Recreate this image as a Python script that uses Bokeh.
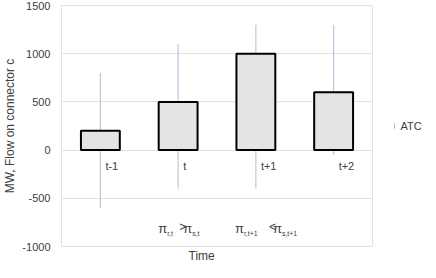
from bokeh.plotting import figure
from bokeh.layouts import row
from bokeh.models import ColumnDataSource, FixedTicker, Title
from bokeh.core.properties import value
from bokeh.embed import file_html
from bokeh.resources import INLINE

categories = ["t-1", "t", "t+1", "t+2"]
flow = [200, 500, 1000, 600]
atc_low = [-600, -400, -400, -50]
atc_high = [800, 1100, 1300, 1300]
y_ticks = [-1000, -500, 0, 500, 1000, 1500]
y_tick_labels = {t: str(t) for t in y_ticks}
label_y = -170
legend_label = "ATC"

FONT = "Liberation Sans"
TXT = "#404040"
ATC_COLOR = "#a9bfd9"

p = figure(x_range=categories, y_range=(-1000, 1500), width=374, height=262,
           output_backend="svg", toolbar_location=None, x_axis_location=None,
           min_border_left=54, min_border_right=2, min_border_top=5, min_border_bottom=0)

p.xgrid.visible = False
p.ygrid.grid_line_color = "#e2e2e2"
p.outline_line_color = "#e2e2e2"

ya = p.yaxis[0]
ya.ticker = FixedTicker(ticks=y_ticks)
ya.major_label_overrides = y_tick_labels
ya.major_tick_line_color = None
ya.minor_tick_line_color = None
ya.axis_line_color = "#e2e2e2"
ya.major_label_text_font = FONT
ya.major_label_text_font_size = "11px"
ya.major_label_text_color = TXT
ya.major_label_standoff = 5
ya.axis_label = "MW, Flow on connector c"
ya.axis_label_text_font = FONT
ya.axis_label_text_font_style = "normal"
ya.axis_label_text_font_size = "12px"
ya.axis_label_text_color = TXT
ya.axis_label_standoff = 2

src = ColumnDataSource(dict(cat=categories, flow=flow, lo=atc_low, hi=atc_high,
                            ly=[label_y] * len(categories)))

p.segment(x0="cat", y0="lo", x1="cat", y1="hi", source=src,
          line_color=ATC_COLOR, line_width=1)
p.vbar(x="cat", top="flow", bottom=0, width=0.5, source=src,
       fill_color="#e4e4e4", line_color="black", line_width=2)

p.text(x="cat", y="ly", text="cat", source=src, x_offset=5,
       text_font=value(FONT), text_font_size="11px", text_color=TXT,
       text_align="left", text_baseline="middle")

ann_y = -810
def piece(cat, txt, dx, size, dy=0):
    p.text(x=[cat], y=[ann_y], text=[txt], x_offset=dx, y_offset=dy,
           text_font=value(FONT), text_font_size=size, text_color=TXT,
           text_align="left", text_baseline="middle")

piece("t", "π", -20, "13px")
piece("t", "r,t", -11, "7px", 5)
piece("t", ">", 1, "12px", -1)
piece("t", "π", 5, "13px")
piece("t", "s,t", 14, "7px", 5)

piece("t+1", "π", -21, "13px")
piece("t+1", "r,t+1", -12, "7px", 5)
piece("t+1", "<", 13, "12px", -1)
piece("t+1", "π", 17, "13px")
piece("t+1", "s,t+1", 26, "7px", 5)

p.add_layout(Title(text="Time", align="left", offset=127, text_font=FONT,
                   text_font_style="normal", text_font_size="12px",
                   text_color=TXT, standoff=0), "below")

# legend panel
lg = figure(width=48, height=262, x_range=(0, 48), y_range=(0, 262),
            output_backend="svg", toolbar_location=None,
            x_axis_location=None, y_axis_location=None,
            min_border=0, outline_line_color=None)
lg.grid.visible = False
lg.segment(x0=[20], y0=[128], x1=[20], y1=[134], line_color=ATC_COLOR, line_width=1)
lg.text(x=[26], y=[131], text=[legend_label], text_font=value(FONT),
        text_font_size="11px", text_color=TXT, text_align="left",
        text_baseline="middle")

layout = row(p, lg, spacing=0)
open("out.html", "w").write(file_html(layout, INLINE))
